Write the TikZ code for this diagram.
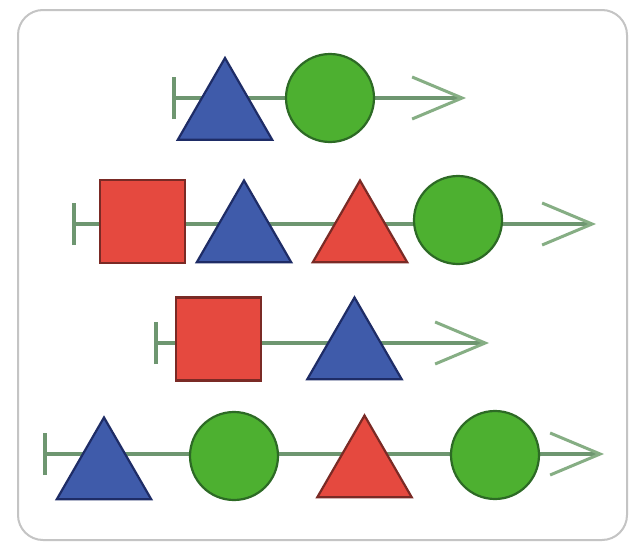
\documentclass[tikz,border=0pt]{standalone}
\usetikzlibrary{shapes.geometric,arrows.meta}
\definecolor{bluefill}{HTML}{3F5BAA}
\definecolor{bluedraw}{HTML}{1E2C66}
\definecolor{redfill}{HTML}{E5493F}
\definecolor{reddraw}{HTML}{7A2A25}
\definecolor{greenfill}{HTML}{4DB030}
\definecolor{greendraw}{HTML}{2D6A25}
\definecolor{linegreen}{HTML}{6E9670}
\definecolor{tipgreen}{HTML}{86AE84}
\definecolor{framegray}{HTML}{C4C4C4}
\tikzset{
  tri/.style={regular polygon, regular polygon sides=3, minimum size=109pt, inner sep=0pt, line width=2.2pt},
  bluetri/.style={tri, fill=bluefill, draw=bluedraw},
  redtri/.style={tri, fill=redfill, draw=reddraw},
  ball/.style={circle, minimum size=88pt, inner sep=0pt, fill=greenfill, draw=greendraw, line width=2.2pt},
  box/.style={rectangle, minimum width=85pt, minimum height=83pt, inner sep=0pt, fill=redfill, draw=reddraw, line width=2.2pt},
  strand/.style={draw=linegreen, line width=3.2pt,
    {Bar[width=42pt,line width=4pt]}-{Straight Barb[length=50pt,width=42pt,line width=3pt,color=tipgreen]}}
}
\begin{document}
\begin{tikzpicture}[x=1pt,y=-1pt]
\useasboundingbox (0,0) rectangle (635,549);
\fill[white] (0,0) rectangle (635,549);
\draw[framegray, line width=2pt, rounded corners=25pt] (18,10) rectangle (627,540);

% row 1
\coordinate (s1) at (172,98);
\coordinate (e1) at (466,98);
\draw[strand] (s1) -- (e1);
\node[bluetri] (r1a) at (225,112.5) {};
\node[ball] (r1b) at (330,98) {};

% row 2
\coordinate (s2) at (72,224);
\coordinate (e2) at (596,224);
\draw[strand] (s2) -- (e2);
\node[box] (r2a) at (142.5,221.5) {};
\node[bluetri] (r2b) at (244,235) {};
\node[redtri] (r2c) at (360,235) {};
\node[ball] (r2d) at (458,220) {};

% row 3
\coordinate (s3) at (154,343);
\coordinate (e3) at (489,343);
\draw[strand] (s3) -- (e3);
\node[box] (r3a) at (218.5,339) {};
\node[bluetri] (r3b) at (354.5,352) {};

% row 4
\coordinate (s4) at (43,454);
\coordinate (e4) at (604,454);
\draw[strand] (s4) -- (e4);
\node[bluetri] (r4a) at (104,472) {};
\node[ball] (r4b) at (234,456) {};
\node[redtri] (r4c) at (364.5,470) {};
\node[ball] (r4d) at (495,455) {};
\end{tikzpicture}
\end{document}
